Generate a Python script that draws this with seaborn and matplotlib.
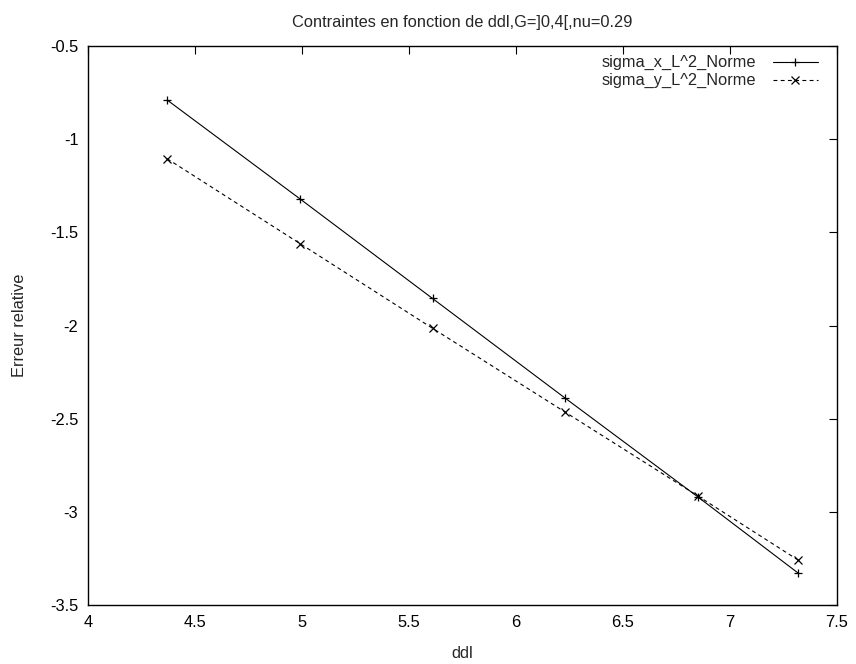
import matplotlib
matplotlib.use("Agg")
import matplotlib.pyplot as plt
from matplotlib.lines import Line2D
import seaborn as sns
import pandas as pd

ddl = [4.37, 4.99, 5.61, 6.23, 6.85, 7.32]
sigma_x = [-0.79, -1.32, -1.855, -2.39, -2.92, -3.33]
sigma_y = [-1.105, -1.56, -2.015, -2.465, -2.915, -3.26]
names = ["sigma_x_L^2_Norme", "sigma_y_L^2_Norme"]
xticks = [4, 4.5, 5, 5.5, 6, 6.5, 7, 7.5]
yticks = [-3.5, -3, -2.5, -2, -1.5, -1, -0.5]

sns.set_theme(style="white")
plt.rcParams['font.family'] = ['Liberation Sans', 'DejaVu Sans']
FS = 11.8

df = pd.DataFrame({
    "ddl": ddl + ddl,
    "val": sigma_x + sigma_y,
    "serie": [names[0]] * len(ddl) + [names[1]] * len(ddl),
})

fig = plt.figure(figsize=(8.56, 6.64), dpi=100)
ax = fig.add_axes([88 / 856, 1 - 605 / 664, 749 / 856, 559 / 664])

sns.lineplot(data=df, x="ddl", y="val", style="serie", hue="serie",
             palette=["black", "black"],
             markers={names[0]: "+", names[1]: "x"},
             dashes={names[0]: "", names[1]: (3.5, 3)},
             markersize=6, markeredgewidth=0.9, markeredgecolor="black",
             linewidth=0.8, sort=False, legend=False, ax=ax)

ax.set_xlim(4, 7.5)
ax.set_ylim(-3.5, -0.5)
ax.set_xticks(xticks)
ax.set_xticklabels([f"{t:g}" for t in xticks])
ax.set_yticks(yticks)
ax.set_yticklabels([f"{t:g}" for t in yticks])
ax.tick_params(direction="in", length=6, width=0.8, top=True, right=True,
               labelsize=FS, colors="black", pad=7)
for s in ax.spines.values():
    s.set_color("black")
    s.set_linewidth(1.0)
ax.set_xlabel("ddl", fontsize=FS)
ax.set_ylabel("Erreur relative", fontsize=FS)
ax.xaxis.set_label_coords(0.5, -0.073)
ax.yaxis.set_label_coords(-0.081, 0.5)
ax.set_title("Contraintes en fonction de ddl,G=]0,4[,nu=0.29", fontsize=FS, pad=14)

handles = [
    Line2D([], [], color="black", lw=0.8, marker="+", ms=6, mew=0.9),
    Line2D([], [], color="black", lw=0.8, ls=(0, (3.5, 3)), marker="x", ms=6, mew=0.9),
]
leg = ax.legend(handles, names, loc="upper right", frameon=False, markerfirst=False,
                fontsize=FS, handlelength=2.75, handletextpad=1.0, numpoints=1,
                labelspacing=0.17, borderpad=0.4, borderaxespad=0.0,
                bbox_to_anchor=(0.983, 0.995))

fig.savefig("out.png", dpi=100)
